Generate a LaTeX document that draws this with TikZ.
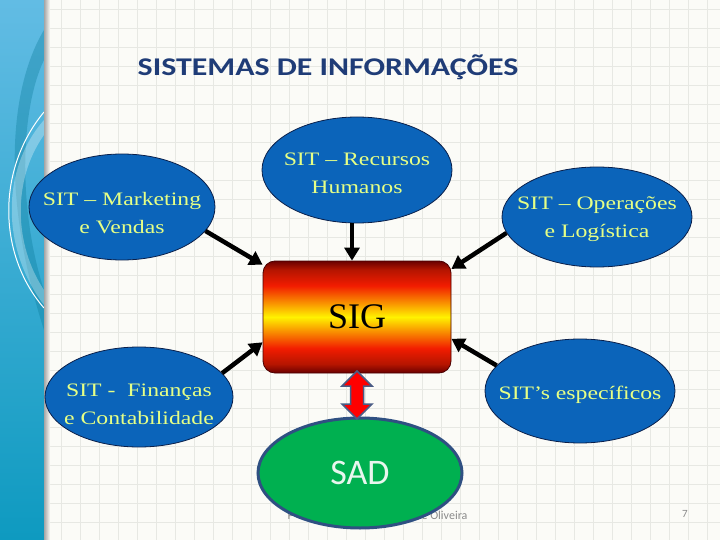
\documentclass[tikz,border=0pt]{standalone}
\usepackage{fontspec}
\setmainfont{Liberation Serif}
\newfontfamily\sitfont[FakeStretch=1.25]{Liberation Serif}
\newfontfamily\titlefont[FakeStretch=1.25]{Carlito}
\newfontfamily\calfont{Carlito}
\usetikzlibrary{arrows.meta,shapes.geometric}
\definecolor{bgpaper}{HTML}{FBFBF7}
\definecolor{gridline}{HTML}{E7E8E3}
\definecolor{stripA}{HTML}{62BCE4}
\definecolor{stripB}{HTML}{0E9AC0}
\definecolor{sitblue}{HTML}{0B64BA}
\definecolor{sitedge}{HTML}{0A1F4A}
\definecolor{sittext}{HTML}{E6FF86}
\definecolor{titleblue}{HTML}{1F3C77}
\definecolor{sigdark}{HTML}{6A0000}
\definecolor{sigred}{HTML}{F21C00}
\definecolor{sigyellow}{HTML}{FFF200}
\definecolor{sadgreen}{HTML}{00B050}
\definecolor{sadedge}{HTML}{2F5082}
\definecolor{sadtext}{HTML}{E8F6EE}
\definecolor{linkedge}{HTML}{4A5C85}
\definecolor{footgray}{HTML}{8A8A8A}
\pgfdeclareverticalshading{sigshade}{100bp}{color(0bp)=(sigdark); color(25bp)=(sigdark); color(29bp)=(sigred!75!black); color(36bp)=(sigred); color(50bp)=(sigyellow); color(64bp)=(sigred); color(71bp)=(sigred!75!black); color(75bp)=(sigdark); color(100bp)=(sigdark)}

\begin{document}
\begin{tikzpicture}[x=1pt,y=-1pt,
  sit/.style={ellipse,draw=sitedge,line width=0.8pt,fill=sitblue,inner sep=0pt},
  sittxt/.style={text=sittext,align=center,inner sep=0pt,font=\sitfont\fontsize{19}{28}\selectfont},
  sigbox/.style={rectangle,rounded corners=12pt,draw=sigdark!70!black,line width=0.8pt,
    shade,shading=sigshade,minimum width=188pt,minimum height=112pt,font=\fontsize{36}{40}\selectfont},
  feed/.style={-{Triangle[length=13pt,width=15pt]},line width=4.5pt,black},
  foot/.style={text=footgray,font=\calfont\fontsize{12}{14}\selectfont}]
  \useasboundingbox (0,0) rectangle (720,540);
  \fill[bgpaper] (0,0) rectangle (720,540);
  \foreach \gx in {4.3,23.3,...,720} \draw[gridline,line width=0.6pt] (\gx,0) -- (\gx,540);
  \foreach \gy in {9.3,28.3,...,540} \draw[gridline,line width=0.6pt] (0,\gy) -- (720,\gy);
  \shade[top color=stripA,bottom color=stripB] (0,0) rectangle (44,540);
  \fill[stripB!80!black,opacity=0.35] (44,30) .. controls (8,90) and (2,200) .. (44,330) -- (44,290) .. controls (18,210) and (20,110) .. (44,60) -- cycle;
  \fill[white,opacity=0.3] (44,120) .. controls (0,170) and (2,250) .. (44,305) -- (44,290) .. controls (14,245) and (12,180) .. (44,135) -- cycle;
  \draw[white,line width=1pt] (44,112) .. controls (-4,170) and (-2,255) .. (44,308);
  \shade[left color=black!35,right color=bgpaper] (44,0) rectangle (50,540);

  \node[text=titleblue,anchor=base,font=\titlefont\bfseries\fontsize{25.5}{30}\selectfont] (title) at (328,76) {SISTEMAS DE INFORMAÇÕES};

  \node[sit,minimum width=186pt,minimum height=106pt] (mkt) at (122,207) {};
  \node[sit,minimum width=190pt,minimum height=106pt] (rh) at (357,170) {};
  \node[sit,minimum width=190pt,minimum height=100pt] (ops) at (597,217) {};
  \node[sit,minimum width=188pt,minimum height=100pt] (fin) at (139,397) {};
  \node[sit,minimum width=190pt,minimum height=104pt] (esp) at (580,391) {};
  \node[sittxt] (mkt-t) at ([yshift=-6pt]mkt.center) {SIT – Marketing\\e Vendas};
  \node[sittxt] (rh-t) at ([yshift=-3pt]rh.center) {SIT – Recursos\\Humanos};
  \node[sittxt] (ops-t) at ([yshift=-2pt]ops.center) {SIT – Operações\\e Logística};
  \node[sittxt] (fin-t) at ([yshift=-7pt]fin.center) {SIT -\ \ Finanças\\e Contabilidade};
  \node[sittxt] (esp-t) at ([yshift=-4pt]esp.center) {SIT’s específicos};
  \node[sigbox] (sig) at (357,317) {SIG};

  \draw[feed] (mkt.-16) -- (sig.151);
  \draw[feed] ([xshift=-5pt]rh.south) -- ([xshift=-5pt]sig.north);
  \draw[feed] (ops.190) -- (sig.27);
  \draw[feed] (fin.16) -- (sig.195);
  \draw[feed] (esp.163) -- (sig.-13);

  \node[foot,anchor=base west] (footl) at (284,519) {P};
  \node[foot,anchor=base east] (footr) at (471,519) {de Oliveira};
  \node[foot,font=\calfont\fontsize{11}{13}\selectfont] (page) at (685,514) {7};

  \node[ellipse,fill=sadgreen,draw=sadedge,line width=3pt,minimum width=204pt,minimum height=110pt,
    text=sadtext,font=\calfont\fontsize{36}{40}\selectfont] (sad) at (360,473) {SAD};
  \coordinate (link) at (357,395);
  \draw[fill=red,draw=linkedge,line width=1.5pt,line join=miter] (link) ++(0,-24) -- ++(15,15) -- ++(-8.5,0) -- ++(0,18) -- ++(8.5,0)
    -- ++(-15,15) -- ++(-15,-15) -- ++(8.5,0) -- ++(0,-18) -- ++(-8.5,0) -- cycle;
\end{tikzpicture}
\end{document}
